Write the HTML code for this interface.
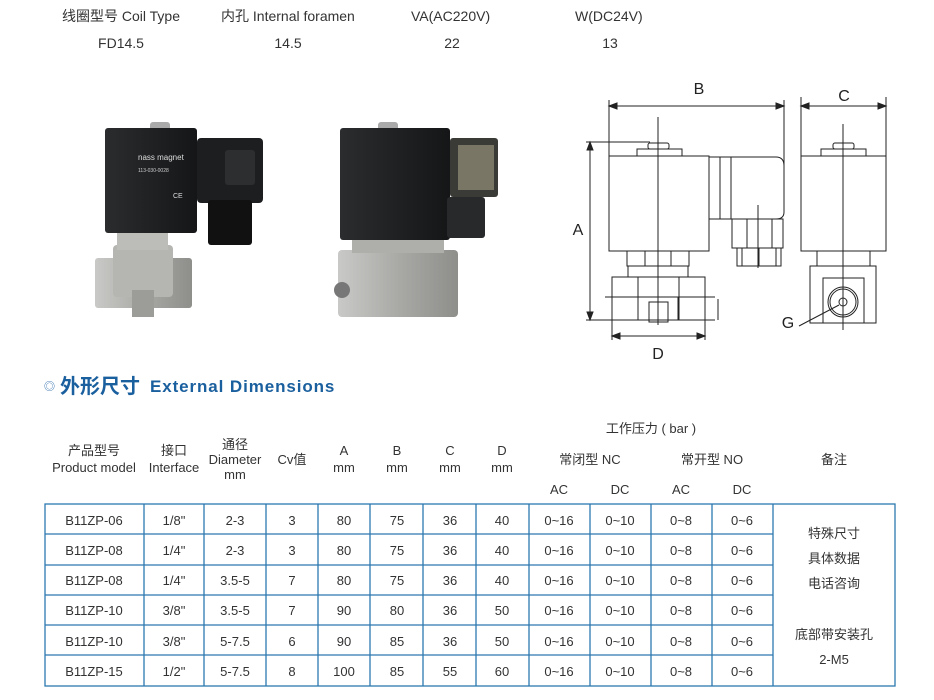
<!DOCTYPE html>
<html><head><meta charset="utf-8"><style>
html,body{margin:0;padding:0;background:#fff;}
body{width:934px;height:695px;overflow:hidden;position:relative;font-family:"Liberation Sans","Noto Sans CJK SC",sans-serif;}
svg text{font-family:"Liberation Sans","Noto Sans CJK SC",sans-serif;}
</style></head><body>
<svg width="934" height="695" viewBox="0 0 934 695" xmlns="http://www.w3.org/2000/svg">
<defs>
<linearGradient id="met" x1="0" x2="1"><stop offset="0" stop-color="#c9c9c7"/><stop offset="0.5" stop-color="#a9a9a6"/><stop offset="1" stop-color="#8e8e8b"/></linearGradient>
<linearGradient id="blk" x1="0" x2="1"><stop offset="0" stop-color="#2a2c2e"/><stop offset="1" stop-color="#151617"/></linearGradient>
</defs>
<g font-size="14" fill="#333">
<text x="62" y="21">线圈型号 Coil Type</text>
<text x="221" y="21">内孔 Internal foramen</text>
<text x="411" y="21">VA(AC220V)</text>
<text x="575" y="21">W(DC24V)</text>
<text x="121" y="48" text-anchor="middle">FD14.5</text>
<text x="288" y="48" text-anchor="middle">14.5</text>
<text x="452" y="48" text-anchor="middle">22</text>
<text x="610" y="48" text-anchor="middle">13</text>
</g>
<g>
<rect x="150" y="122" width="20" height="10" rx="3" fill="#aaa"/>
<rect x="95" y="258" width="97" height="50" rx="3" fill="url(#met)"/>
<rect x="113" y="245" width="60" height="52" rx="4" fill="#b5b5b2"/>
<rect x="132" y="290" width="22" height="27" fill="#9c9c99"/>
<rect x="117" y="233" width="51" height="17" fill="#bcbcb9"/>
<rect x="105" y="128" width="92" height="105" rx="3" fill="url(#blk)"/>
<rect x="197" y="138" width="66" height="65" rx="4" fill="#1d1e20"/>
<rect x="208" y="200" width="44" height="45" rx="3" fill="#111"/>
<rect x="225" y="150" width="30" height="35" rx="3" fill="#2c2e30"/>
<text x="138" y="160" font-size="8" fill="#ddd">nass magnet</text>
<text x="138" y="172" font-size="5" fill="#ccc">113-030-0028</text>
<text x="173" y="198" font-size="7" fill="#ddd">CE</text>
</g>
<g>
<rect x="378" y="122" width="20" height="10" rx="3" fill="#aaa"/>
<rect x="338" y="250" width="120" height="67" rx="4" fill="url(#met)"/>
<rect x="352" y="235" width="92" height="18" fill="#aeaeab"/>
<rect x="340" y="128" width="110" height="112" rx="3" fill="url(#blk)"/>
<rect x="450" y="138" width="48" height="59" rx="3" fill="#3a3b36"/>
<rect x="458" y="145" width="36" height="45" fill="#8a8672" opacity="0.8"/>
<rect x="447" y="197" width="38" height="41" rx="3" fill="#28292a"/>
<circle cx="342" cy="290" r="8" fill="#777"/>
</g>
<g stroke="#222" stroke-width="1" fill="none">
<line x1="609" y1="100" x2="609" y2="156"/>
<line x1="784" y1="100" x2="784" y2="170"/>
<line x1="609" y1="106" x2="784" y2="106"/>
<path d="M609 106 l8 -3 v6z M784 106 l-8 -3 v6z" fill="#222"/>
<rect x="609" y="156" width="100" height="95"/>
<rect x="637" y="149" width="45" height="7"/>
<rect x="648" y="143" width="21" height="6" rx="2"/>
<path d="M709 157 H776 Q784 157 784 166 V212 Q784 219 776 219 H709"/>
<line x1="720" y1="157" x2="720" y2="219"/><line x1="731" y1="157" x2="731" y2="219"/>
<rect x="732" y="219" width="51" height="29"/>
<line x1="747" y1="219" x2="747" y2="248"/><line x1="772" y1="219" x2="772" y2="248"/>
<rect x="737" y="248" width="44" height="18"/>
<line x1="742" y1="248" x2="742" y2="266"/><line x1="759" y1="248" x2="759" y2="266"/><line x1="776" y1="248" x2="776" y2="266"/>
<rect x="627" y="251" width="62" height="15"/>
<line x1="645" y1="251" x2="645" y2="266"/><line x1="671" y1="251" x2="671" y2="266"/>
<rect x="628" y="266" width="60" height="11"/>
<rect x="612" y="277" width="26" height="43"/>
<rect x="679" y="277" width="26" height="43"/>
<rect x="638" y="297" width="40" height="23"/>
<rect x="649" y="302" width="19" height="20"/>
<line x1="605" y1="297" x2="715" y2="297"/>
<line x1="586" y1="142" x2="650" y2="142"/>
<line x1="586" y1="320" x2="715" y2="320"/>
<line x1="590" y1="142" x2="590" y2="320"/>
<path d="M590 142 l-3 8 h6z M590 320 l-3 -8 h6z" fill="#222"/>
<line x1="718" y1="299" x2="718" y2="320"/>
<line x1="612" y1="320" x2="612" y2="340"/><line x1="705" y1="320" x2="705" y2="340"/>
<line x1="612" y1="336" x2="705" y2="336"/>
<path d="M612 336 l8 -3 v6z M705 336 l-8 -3 v6z" fill="#222"/>
<line x1="658" y1="117" x2="658" y2="325"/>
<line x1="758" y1="205" x2="758" y2="268"/>
<line x1="801" y1="97" x2="801" y2="156"/><line x1="886" y1="97" x2="886" y2="156"/>
<line x1="801" y1="106" x2="886" y2="106"/>
<path d="M801 106 l8 -3 v6z M886 106 l-8 -3 v6z" fill="#222"/>
<rect x="801" y="156" width="85" height="95"/>
<rect x="821" y="149" width="45" height="7"/>
<rect x="833" y="143" width="21" height="6" rx="2"/>
<rect x="817" y="251" width="53" height="15"/>
<rect x="810" y="266" width="66" height="57"/>
<rect x="823" y="278" width="41" height="45"/>
<circle cx="843" cy="302" r="15"/><circle cx="843" cy="302" r="13"/><circle cx="843" cy="302" r="4"/>
<line x1="843" y1="124" x2="843" y2="330"/>
<line x1="799" y1="326" x2="839" y2="305"/>
</g>
<g font-size="16" fill="#222">
<text x="699" y="94" text-anchor="middle">B</text>
<text x="844" y="101" text-anchor="middle">C</text>
<text x="578" y="235" text-anchor="middle">A</text>
<text x="658" y="359" text-anchor="middle">D</text>
<text x="788" y="328" text-anchor="middle">G</text>
</g>
<text x="44" y="390" font-size="11" fill="#2a6aa8">◎</text>
<text x="60" y="393" font-size="20" font-weight="bold" fill="#1a5f9e">外形尺寸</text>
<text x="150" y="392" font-size="17" font-weight="bold" fill="#1a5f9e" letter-spacing="0.9">External Dimensions</text>
<g font-size="13" fill="#333" text-anchor="middle">
<text x="94" y="455">产品型号</text><text x="94" y="472">Product model</text>
<text x="174" y="455">接口</text><text x="174" y="472">Interface</text>
<text x="235" y="449">通径</text><text x="235" y="464">Diameter</text><text x="235" y="479">mm</text>
<text x="292" y="464">Cv值</text>
<text x="344" y="455">A</text><text x="344" y="472">mm</text>
<text x="397" y="455">B</text><text x="397" y="472">mm</text>
<text x="450" y="455">C</text><text x="450" y="472">mm</text>
<text x="502" y="455">D</text><text x="502" y="472">mm</text>
<text x="651" y="433">工作压力 ( bar )</text>
<text x="590" y="464">常闭型 NC</text>
<text x="712" y="464">常开型 NO</text>
<text x="834" y="464">备注</text>
<text x="559" y="494">AC</text><text x="620" y="494">DC</text>
<text x="681" y="494">AC</text><text x="742" y="494">DC</text>
</g>
<g stroke="#2d78b0" stroke-width="1.3" fill="none">
<rect x="45" y="504" width="850" height="182"/>
<line x1="45" y1="534" x2="773" y2="534"/>
<line x1="45" y1="565" x2="773" y2="565"/>
<line x1="45" y1="595" x2="773" y2="595"/>
<line x1="45" y1="625" x2="773" y2="625"/>
<line x1="45" y1="655" x2="773" y2="655"/>
<line x1="144" y1="504" x2="144" y2="686"/>
<line x1="204" y1="504" x2="204" y2="686"/>
<line x1="266" y1="504" x2="266" y2="686"/>
<line x1="318" y1="504" x2="318" y2="686"/>
<line x1="370" y1="504" x2="370" y2="686"/>
<line x1="423" y1="504" x2="423" y2="686"/>
<line x1="476" y1="504" x2="476" y2="686"/>
<line x1="529" y1="504" x2="529" y2="686"/>
<line x1="590" y1="504" x2="590" y2="686"/>
<line x1="651" y1="504" x2="651" y2="686"/>
<line x1="712" y1="504" x2="712" y2="686"/>
<line x1="773" y1="504" x2="773" y2="686"/>
</g>
<g font-size="13" fill="#333" text-anchor="middle">
<g transform="translate(0,525)"><text x="94">B11ZP-06</text><text x="174">1/8"</text><text x="235">2-3</text><text x="292">3</text><text x="344">80</text><text x="397">75</text><text x="450">36</text><text x="502">40</text><text x="559">0~16</text><text x="620">0~10</text><text x="681">0~8</text><text x="742">0~6</text></g>
<g transform="translate(0,555)"><text x="94">B11ZP-08</text><text x="174">1/4"</text><text x="235">2-3</text><text x="292">3</text><text x="344">80</text><text x="397">75</text><text x="450">36</text><text x="502">40</text><text x="559">0~16</text><text x="620">0~10</text><text x="681">0~8</text><text x="742">0~6</text></g>
<g transform="translate(0,585)"><text x="94">B11ZP-08</text><text x="174">1/4"</text><text x="235">3.5-5</text><text x="292">7</text><text x="344">80</text><text x="397">75</text><text x="450">36</text><text x="502">40</text><text x="559">0~16</text><text x="620">0~10</text><text x="681">0~8</text><text x="742">0~6</text></g>
<g transform="translate(0,615)"><text x="94">B11ZP-10</text><text x="174">3/8"</text><text x="235">3.5-5</text><text x="292">7</text><text x="344">90</text><text x="397">80</text><text x="450">36</text><text x="502">50</text><text x="559">0~16</text><text x="620">0~10</text><text x="681">0~8</text><text x="742">0~6</text></g>
<g transform="translate(0,646)"><text x="94">B11ZP-10</text><text x="174">3/8"</text><text x="235">5-7.5</text><text x="292">6</text><text x="344">90</text><text x="397">85</text><text x="450">36</text><text x="502">50</text><text x="559">0~16</text><text x="620">0~10</text><text x="681">0~8</text><text x="742">0~6</text></g>
<g transform="translate(0,676)"><text x="94">B11ZP-15</text><text x="174">1/2"</text><text x="235">5-7.5</text><text x="292">8</text><text x="344">100</text><text x="397">85</text><text x="450">55</text><text x="502">60</text><text x="559">0~16</text><text x="620">0~10</text><text x="681">0~8</text><text x="742">0~6</text></g>
<text x="834" y="538">特殊尺寸</text>
<text x="834" y="563">具体数据</text>
<text x="834" y="588">电话咨询</text>
<text x="834" y="639">底部带安装孔</text>
<text x="834" y="664">2-M5</text>
</g>
</svg>
</body></html>
